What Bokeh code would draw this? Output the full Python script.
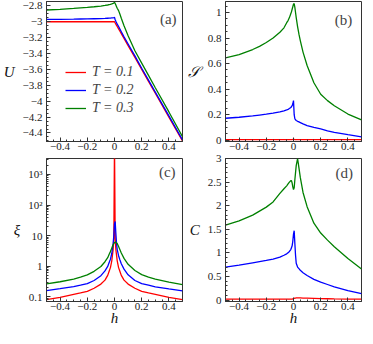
from bokeh.plotting import figure
from bokeh.layouts import gridplot
from bokeh.models import (Range1d, SingleIntervalTicker, LogTicker, CustomJSTickFormatter,
                          Legend, LegendItem, Label)
from bokeh.embed import file_html
from bokeh.resources import INLINE

# ---------------- data ----------------
h = [-0.5, -0.4, -0.3, -0.25, -0.2, -0.15, -0.1, -0.07, -0.05, -0.04, -0.03, -0.02, -0.015, -0.01, -0.005, 0.0,
     0.005, 0.01, 0.015, 0.02, 0.03, 0.04, 0.05, 0.07, 0.1, 0.15, 0.2, 0.25, 0.3, 0.4, 0.5]

temps = ["T = 0.1", "T = 0.2", "T = 0.3"]

# (a) internal energy U
U_01 = [-3.0, -3.0, -3.0, -3.0, -3.0, -3.0, -3.0, -3.0, -3.0, -3.0, -3.0, -3.0, -3.0, -3.0, -3.0, -3.0,
        -3.015, -3.03, -3.045, -3.06, -3.09, -3.12, -3.15, -3.21, -3.30, -3.45, -3.60, -3.75, -3.90, -4.20, -4.50]
U_02 = [-2.971, -2.969, -2.967, -2.965, -2.964, -2.962, -2.960, -2.958, -2.956, -2.955, -2.954, -2.952, -2.951, -2.950, -2.948, -2.945,
        -2.975, -2.995, -3.012, -3.03, -3.06, -3.093, -3.125, -3.19, -3.28, -3.43, -3.585, -3.735, -3.885, -4.185, -4.488]
U_03 = [-2.852, -2.843, -2.831, -2.824, -2.818, -2.811, -2.802, -2.795, -2.789, -2.785, -2.781, -2.776, -2.773, -2.769, -2.763, -2.755,
        -2.77, -2.79, -2.81, -2.83, -2.86, -2.905, -2.955, -3.05, -3.175, -3.365, -3.52, -3.675, -3.83, -4.135, -4.445]

# (b) entropy S
S_01 = [0.004, 0.004, 0.004, 0.004, 0.004, 0.004, 0.004, 0.004, 0.004, 0.004, 0.004, 0.004, 0.004, 0.005, 0.006, 0.008,
        0.006, 0.005, 0.005, 0.005, 0.005, 0.004, 0.004, 0.004, 0.004, 0.004, 0.004, 0.004, 0.004, 0.004, 0.004]
S_02 = [0.172, 0.18, 0.19, 0.197, 0.204, 0.212, 0.222, 0.23, 0.237, 0.242, 0.248, 0.256, 0.262, 0.27, 0.285, 0.31,
        0.2, 0.168, 0.16, 0.155, 0.148, 0.143, 0.138, 0.128, 0.115, 0.1, 0.088, 0.074, 0.062, 0.043, 0.027]
S_03 = [0.645, 0.67, 0.71, 0.735, 0.765, 0.80, 0.845, 0.88, 0.92, 0.937, 0.96, 0.99, 1.005, 1.025, 1.045, 1.065,
        1.07, 1.04, 1.0, 0.96, 0.89, 0.83, 0.78, 0.69, 0.585, 0.45, 0.36, 0.31, 0.27, 0.205, 0.16]

# (c) correlation length xi
XI_01 = [0.08, 0.095, 0.12, 0.133, 0.15, 0.19, 0.26, 0.35, 0.5, 0.67, 0.9, 1.5, 2.3, 3.5, 8.0, 10000.0,
         8.0, 3.5, 2.3, 1.5, 0.9, 0.67, 0.5, 0.35, 0.26, 0.19, 0.15, 0.133, 0.12, 0.095, 0.08]
XI_02 = [0.16, 0.185, 0.215, 0.24, 0.27, 0.34, 0.49, 0.7, 0.98, 1.3, 1.7, 2.6, 3.8, 5.5, 10.0, 24.0,
         29.0, 12.0, 5.5, 3.5, 2.2, 1.6, 1.2, 0.8, 0.52, 0.34, 0.27, 0.24, 0.21, 0.18, 0.155]
XI_03 = [0.265, 0.31, 0.38, 0.44, 0.52, 0.68, 0.98, 1.4, 1.9, 2.4, 3.0, 3.9, 4.5, 5.0, 5.5, 5.9,
         6.1, 6.1, 5.8, 5.5, 4.4, 3.45, 2.7, 1.8, 1.15, 0.72, 0.53, 0.44, 0.38, 0.3, 0.25]

# (d) specific heat C
C_01 = [0.02, 0.02, 0.02, 0.02, 0.02, 0.02, 0.02, 0.02, 0.02, 0.02, 0.02, 0.02, 0.02, 0.02, 0.025, 0.03,
        0.035, 0.04, 0.042, 0.045, 0.045, 0.045, 0.045, 0.042, 0.04, 0.035, 0.03, 0.028, 0.025, 0.022, 0.02]
C_02 = [0.70, 0.74, 0.79, 0.815, 0.84, 0.87, 0.91, 0.95, 0.98, 1.005, 1.03, 1.07, 1.11, 1.15, 1.25, 1.40,
        1.47, 1.2, 0.95, 0.78, 0.7, 0.665, 0.63, 0.58, 0.52, 0.44, 0.38, 0.33, 0.28, 0.2, 0.135]
C_03 = [1.59, 1.68, 1.80, 1.885, 1.97, 2.08, 2.26, 2.36, 2.42, 2.46, 2.5, 2.53, 2.53, 2.48, 2.40, 2.34,
        2.38, 2.55, 2.7, 2.85, 3.0, 2.8, 2.6, 2.28, 1.98, 1.63, 1.42, 1.27, 1.13, 0.88, 0.66]

x_ticks_interval = 0.2

COLORS = ["#ff0000", "#0000ff", "#008000"]
SERIF = "Liberation Serif"
FRAME = "#333333"

fmt = CustomJSTickFormatter(code="""
const v = Math.round(tick*1000)/1000;
return (v < 0 ? '\\u2212' : '') + Math.abs(v).toString();
""")
logfmt = CustomJSTickFormatter(code="""
const e = Math.round(Math.log10(tick));
if (e == 2) return '10\\u00b2';
if (e == 3) return '10\\u00b3';
if (e == 1) return '10';
if (e == 0) return '1';
return tick.toString();
""")


def make(width, height, y_range, ylabel, mb_left, mb_top, mb_bottom, log=False, xlabel=None):
    kw = dict(y_axis_type="log") if log else {}
    p = figure(width=width, height=height, x_range=Range1d(-0.5, 0.5), y_range=y_range,
               output_backend="svg", toolbar_location=None, min_border_left=mb_left,
               min_border_right=2, min_border_top=mb_top, min_border_bottom=mb_bottom, **kw)
    p.grid.visible = False
    p.outline_line_color = FRAME
    p.outline_line_width = 1
    p.background_fill_color = "white"
    p.border_fill_color = "white"
    for ax in (p.xaxis[0], p.yaxis[0]):
        ax.axis_line_color = FRAME
        ax.major_tick_line_color = FRAME
        ax.minor_tick_line_color = FRAME
        ax.major_tick_in = 4
        ax.major_tick_out = 0
        ax.minor_tick_in = 2
        ax.minor_tick_out = 0
        ax.major_label_text_font = SERIF
        ax.major_label_text_font_size = "11px"
        ax.major_label_text_color = "#222222"
        ax.axis_label_text_font = SERIF
        ax.axis_label_text_font_style = "italic"
        ax.axis_label_text_font_size = "15px"
        ax.axis_label_text_color = "#111111"
    p.xaxis[0].ticker = SingleIntervalTicker(interval=x_ticks_interval, num_minor_ticks=4)
    p.xaxis[0].formatter = fmt
    p.xaxis[0].major_label_standoff = 1
    p.yaxis[0].major_label_standoff = 4
    p.yaxis[0].axis_label = ylabel
    p.yaxis[0].axis_label_orientation = "horizontal"
    p.yaxis[0].axis_label_standoff = 5
    if xlabel:
        p.xaxis[0].axis_label = xlabel
        p.xaxis[0].axis_label_standoff = -3
    return p


W1, W2 = 184, 179
H1, H2 = 152, 176

pa = make(W1, H1, Range1d(-4.507, -2.745), "U", 37, 1, 11)
pa.yaxis[0].ticker = SingleIntervalTicker(interval=0.2, num_minor_ticks=4)
pa.yaxis[0].formatter = fmt
ra = [pa.line(h, ys, line_color=c, line_width=1.3) for ys, c in zip([U_01, U_02, U_03], COLORS)]
legend = Legend(items=[LegendItem(label=t, renderers=[r]) for t, r in zip(temps, ra)],
                location=(19, 25), padding=0, margin=0, spacing=2, glyph_width=21,
                glyph_height=16, label_height=16, label_standoff=6,
                label_text_font=SERIF, label_text_font_style="italic",
                label_text_font_size="14px", border_line_alpha=0, background_fill_alpha=0)
pa.add_layout(legend)
pa.add_layout(Label(x=0.395, y=-2.96, text="(a)", text_align="center", text_baseline="middle",
                    text_font=SERIF, text_font_size="15px"))

pb = make(W2, H1, Range1d(-0.01, 1.086), "𝒮", 35, 1, 11)
pb.yaxis[0].ticker = SingleIntervalTicker(interval=0.2, num_minor_ticks=4)
pb.yaxis[0].formatter = fmt
for ys, c in zip([S_01, S_02, S_03], COLORS):
    pb.line(h, ys, line_color=c, line_width=1.3)
pb.add_layout(Label(x=0.367, y=0.943, text="(b)", text_align="center", text_baseline="middle",
                    text_font=SERIF, text_font_size="15px"))

pc = make(W1, H2, Range1d(0.07, 3330), "ξ", 37, 6, 27, log=True, xlabel="h")
pc.yaxis[0].ticker = LogTicker(num_minor_ticks=10)
pc.yaxis[0].formatter = logfmt
for ys, c in zip([XI_01, XI_02, XI_03], COLORS):
    pc.line(h, ys, line_color=c, line_width=1.3)
pc.add_layout(Label(x=0.388, y=1165, text="(c)", text_align="center", text_baseline="middle",
                    text_font=SERIF, text_font_size="15px"))

pd = make(W2, H2, Range1d(-0.03, 3.0), "C", 35, 6, 27, xlabel="h")
pd.yaxis[0].ticker = SingleIntervalTicker(interval=0.5, num_minor_ticks=5)
pd.yaxis[0].formatter = fmt
for ys, c in zip([C_01, C_02, C_03], COLORS):
    pd.line(h, ys, line_color=c, line_width=1.3)
pd.add_layout(Label(x=0.374, y=2.70, text="(d)", text_align="center", text_baseline="middle",
                    text_font=SERIF, text_font_size="15px"))

grid = gridplot([[pa, pb], [pc, pd]], toolbar_location=None)

open("out.html", "w").write(file_html(grid, INLINE))
